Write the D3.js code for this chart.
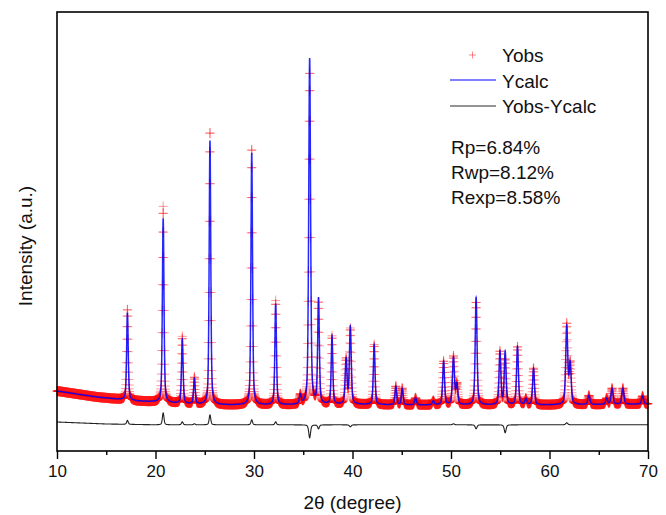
<!DOCTYPE html>
<html><head><meta charset="utf-8">
<script src="https://cdn.jsdelivr.net/npm/d3@7/dist/d3.min.js"></script>
<style>body{margin:0;background:#fff}svg{display:block}text{font-family:"Liberation Sans",Arial,sans-serif;fill:#111}</style>
</head><body>
<script>
// ---- data ----
const xTicks = [10, 20, 30, 40, 50, 60, 70];
const xMinorTicks = [15, 25, 35, 45, 55, 65];
// background (2theta, intensity a.u.)
const bgX = [10, 12, 14, 16, 18, 20, 23, 26, 30, 35, 40, 45, 50, 55, 60, 65, 70];
const bgY = [600, 570, 540, 520, 500, 490, 470, 460, 460, 460, 465, 460, 460, 460, 460, 465, 470];
// reflections: position, calculated height, residual (obs-calc), FWHM
const peakPos   = [17.15, 20.78, 22.72, 23.95, 25.53, 29.77, 32.2, 34.7, 35.65, 36.55, 37.92, 39.35, 39.78, 42.2, 44.4, 45.05, 46.4, 48.2, 49.25, 50.25, 50.6, 52.55, 54.97, 55.5, 56.75, 57.6, 58.38, 61.75, 62.1, 64.0, 65.8, 66.35, 67.45, 69.45];
const peakCalc  = [870, 1840, 640, 255, 2640, 2520, 1010, 90, 3460, 1050, 680, 445, 770, 600, 185, 165, 70, 40, 435, 470, 200, 1070, 530, 530, 580, 60, 365, 780, 400, 90, 60, 160, 160, 80];
const peakResid = [40, 120, 30, 10, 100, 50, 30, 0, -130, -40, 0, 0, -20, 0, 0, 0, 0, 0, 0, 10, 0, -40, 0, -80, 0, 0, 0, 20, 0, 0, 0, 0, 0, 0];
const peakFwhm  = [0.19, 0.19, 0.19, 0.19, 0.19, 0.19, 0.19, 0.22, 0.22, 0.2, 0.19, 0.22, 0.22, 0.2, 0.2, 0.2, 0.22, 0.22, 0.22, 0.24, 0.22, 0.22, 0.22, 0.22, 0.22, 0.22, 0.22, 0.24, 0.24, 0.24, 0.22, 0.24, 0.24, 0.24];
const diffX = [10, 15, 20, 70];
const diffY = [290, 270, 262, 262];
const stepObs = 0.02;
const legendLabels = ["Yobs", "Ycalc", "Yobs-Ycalc"];
const rLabels = ["Rp=6.84%", "Rwp=8.12%", "Rexp=8.58%"];

// ---- chart ----
const W = 666, H = 515;
const m = {l: 57, t: 12, r: 18, b: 64};
const svg = d3.select("body").append("svg").attr("width", W).attr("height", H);
const x = d3.scaleLinear().domain([10, 70]).range([m.l, W - m.r]);
const y = d3.scaleLinear().domain([0, 4390]).range([H - m.b, m.t]);
const bg = d3.scaleLinear().domain(bgX).range(bgY);
const dbase = d3.scaleLinear().domain(diffX).range(diffY);

function shape(t, i) {
  const u = (t - peakPos[i]) / peakFwhm[i];
  const L = 1 / (1 + 4 * u * u);
  const G = Math.exp(-4 * Math.LN2 * u * u);
  return 0.45 * L + 0.55 * G;
}
function calc(t) { let s = bg(t); for (let i = 0; i < peakPos.length; i++) s += peakCalc[i] * shape(t, i); return s; }
function resid(t) { let s = 0; for (let i = 0; i < peakPos.length; i++) s += peakResid[i] * shape(t, i); return s; }

const grid = d3.range(10, 70.0001, stepObs);
const gridFine = d3.range(10, 70.0001, 0.005);

const g = svg.append("g");
// observed markers
let p = "";
grid.forEach(t => {
  const px = x(t), py = y(calc(t) + resid(t));
  p += `M${(px - 4.5).toFixed(2)},${py.toFixed(2)}h9M${px.toFixed(2)},${(py - 5).toFixed(2)}v10`;
});
g.append("path").attr("d", p).attr("fill", "none").attr("stroke", "#ff0000").attr("stroke-width", 1).attr("stroke-opacity", 0.4);
// calc line
g.append("path").datum(gridFine).attr("fill", "none").attr("stroke", "#0000ff").attr("stroke-width", 1.5).attr("stroke-opacity", 0.85)
  .attr("d", d3.line().x(t => x(t)).y(t => y(calc(t))));
// difference line
g.append("path").datum(gridFine).attr("fill", "none").attr("stroke", "#222").attr("stroke-width", 1.1)
  .attr("d", d3.line().x(t => x(t)).y(t => y(dbase(t) + resid(t))));

// frame
svg.append("rect").attr("x", m.l).attr("y", m.t).attr("width", W - m.r - m.l).attr("height", H - m.b - m.t)
  .attr("fill", "none").attr("stroke", "#000").attr("stroke-width", 1.6);
// x axis
const ax = svg.append("g").attr("transform", `translate(0,${H - m.b})`);
ax.call(d3.axisBottom(x).tickValues(xTicks).tickSize(8).tickFormat(d3.format("d")).tickPadding(6));
ax.append("g").call(d3.axisBottom(x).tickValues(xMinorTicks).tickSize(4).tickFormat(""));
ax.selectAll(".domain").remove();
ax.selectAll("line").attr("stroke", "#000").attr("stroke-width", 1.4);
ax.selectAll("text").attr("font-size", 17).attr("font-family", "Liberation Sans, Arial, sans-serif").attr("fill", "#111");

svg.append("text").attr("x", (m.l + W - m.r) / 2).attr("y", 509).attr("text-anchor", "middle").attr("font-size", 19).text("2θ (degree)");
svg.append("text").attr("transform", "translate(32,246) rotate(-90)").attr("text-anchor", "middle").attr("font-size", 19).text("Intensity (a.u.)");

// legend
const lg = svg.append("g");
lg.append("path").attr("d", "M469,55h7M472.5,51.5v7").attr("stroke", "#ff0000").attr("stroke-opacity", 0.45).attr("stroke-width", 1);
lg.append("line").attr("x1", 450).attr("x2", 496).attr("y1", 80).attr("y2", 80).attr("stroke", "#0000ff").attr("stroke-width", 1.2);
lg.append("line").attr("x1", 450).attr("x2", 496).attr("y1", 106).attr("y2", 106).attr("stroke", "#2a2a2a").attr("stroke-width", 1.2);
legendLabels.forEach((s, i) => {
  lg.append("text").attr("x", 502).attr("y", 62 + i * 25.5).attr("font-size", 19).text(s);
});
rLabels.forEach((s, i) => {
  lg.append("text").attr("x", 451).attr("y", 154 + i * 25).attr("font-size", 19).text(s);
});
</script>
</body></html>
